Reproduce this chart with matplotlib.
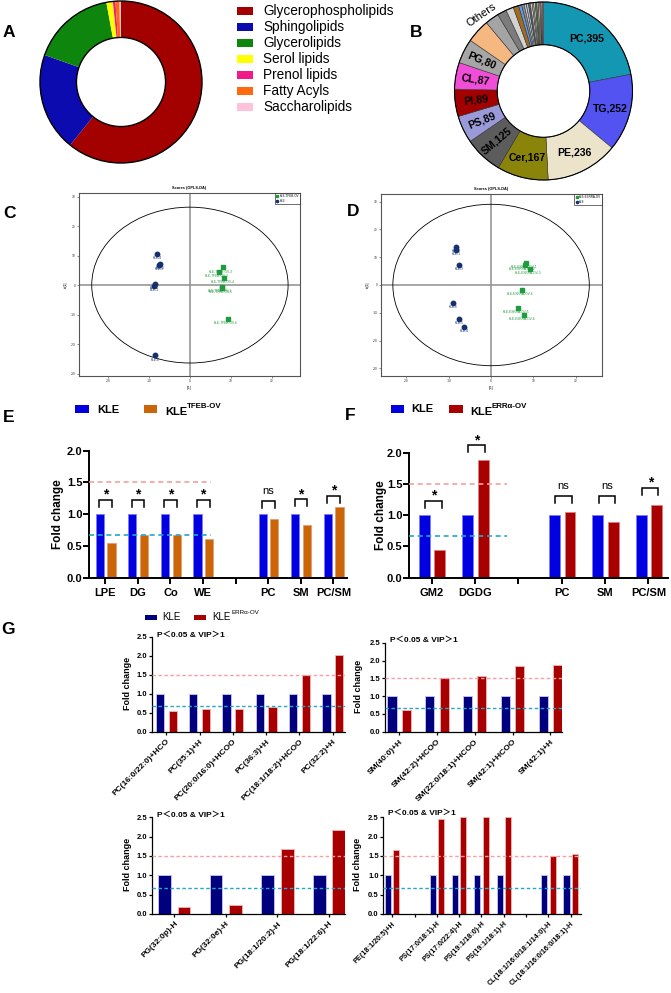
import numpy as np
import matplotlib
matplotlib.use("Agg")
import matplotlib.pyplot as plt
from matplotlib.patches import Rectangle, Ellipse, Circle

W, H = 671, 993
plt.rcParams['font.family'] = ['Liberation Sans', 'Noto Sans CJK SC', 'DejaVu Sans']
plt.rcParams['axes.unicode_minus'] = False

# ---------------- data ----------------
# A: lipid categories (% of identified lipids)
cat_names = ['Glycerophospholipids', 'Sphingolipids', 'Glycerolipids', 'Serol lipids',
             'Prenol lipids', 'Fatty Acyls', 'Saccharolipids']
cat_share = [60.8, 19.6, 16.7, 1.3, 0.5, 0.8, 0.3]
cat_colors = ['#a30000', '#0b0bb0', '#0e860e', '#ffff00', '#f01a88', '#ff6a10', '#ffc2dd']

# B: lipid subclasses (number of species)
sub_names = ['PC', 'TG', 'PE', 'Cer', 'SM', 'PS', 'PI', 'CL', 'PG']
sub_counts = [395, 252, 236, 167, 125, 89, 89, 87, 80]
sub_colors = ['#1497b3', '#5353f2', '#ebe4cb', '#8b840a', '#5c5c5c', '#9a9ad8',
              '#a30000', '#f04ed8', '#a6a6a6']
other_counts = [77, 45, 30, 25, 18, 10, 8, 7, 7, 6, 6, 5, 5, 5, 5, 5, 4, 4, 4]
other_colors = ['#f4b880', '#a4a4a4', '#7c7c7c', '#d2d2d2', '#a06a20', '#5a9af0', '#909090',
                '#c8c8c8', '#a8c0e0', '#606060', '#e0d0b0', '#b0b0b0', '#d8d8f0', '#40a040',
                '#c0a080', '#e8c0c0', '#909090', '#d0b090', '#b0a0a0']

# C: OPLS-DA scores, KLE vs KLE-TFEB-OV
c_kle_t1 = [-8.0, -7.5, -7.3, -8.6, -8.7, -8.5]
c_kle_to = [10.5, 6.7, 7.1, 0.5, -0.3, -23.8]
c_kle_lab = ['KLE-4', 'KLE-3', 'KLE-5', 'KLE-2', 'KLE-1', 'KLE-6']
c_ov_t1 = [8.1, 7.1, 8.4, 7.7, 7.9, 9.3]
c_ov_to = [6.0, 4.5, 2.5, -0.6, -0.9, -11.6]
c_ov_lab = ['KLE-TFEB-OV-3', 'KLE-TFEB-OV-2', 'KLE-TFEB-OV-4', 'KLE-TFEB-OV-1',
            'KLE-TFEB-OV-5', 'KLE-TFEB-OV-6']

# D: OPLS-DA scores, KLE vs KLE-ESRRA-OV
d_kle_t1 = [-8.3, -8.2, -7.5, -9.0, -7.6, -6.3]
d_kle_to = [13.8, 12.6, 7.3, -6.4, -12.2, -15.0]
d_kle_lab = ['KLE-2', 'KLE-1', 'KLE-3', 'KLE-6', 'KLE-5', 'KLE-4']
d_ov_t1 = [8.3, 7.9, 9.1, 7.4, 6.4, 7.7]
d_ov_to = [8.0, 7.2, 5.9, -1.8, -8.2, -10.8]
d_ov_lab = ['KLE-ESRRA-OV-1', 'KLE-ESRRA-OV-2', 'KLE-ESRRA-OV-3', 'KLE-ESRRA-OV-6',
            'KLE-ESRRA-OV-5', 'KLE-ESRRA-OV-4']

nan = np.nan
# E: fold change, KLE vs KLE-TFEB-OV
e_cats = ['LPE', 'DG', 'Co', 'WE', '', 'PC', 'SM', 'PC/SM']
e_kle = [1, 1, 1, 1, nan, 1, 1, 1]
e_tfeb = [0.55, 0.67, 0.665, 0.615, nan, 0.925, 0.825, 1.12]
e_sig = ['*', '*', '*', '*', '', 'ns', '*', '*']
e_top = [1.225, 1.225, 1.225, 1.225, nan, 1.21, 1.24, 1.29]

# F: fold change, KLE vs KLE-ERRa-OV
f_cats = ['GM2', 'DGDG', '', 'PC', 'SM', 'PC/SM']
f_kle = [1, 1, nan, 1, 1, 1]
f_erra = [0.44, 1.89, nan, 1.045, 0.89, 1.17]
f_sig = ['*', '*', '', 'ns', 'ns', '*']
f_top = [1.23, 2.12, nan, 1.31, 1.31, 1.44]

# G: individual lipid species
g1_lipids = ['PC(16:0/22:0)+HCO', 'PC(35:1)+H', 'PC(20:0/16:0)+HCOO', 'PC(36:3)+H',
             'PC(18:1/18:2)+HCOO', 'PC(32:2)+H']
g1_kle = [1, 1, 1, 1, 1, 1]
g1_erra = [0.55, 0.6, 0.6, 0.65, 1.5, 2.01]
g2_lipids = ['SM(40:0)+H', 'SM(42:2)+HCOO', 'SM(22:0/18:1)+HCOO', 'SM(42:1)+HCOO', 'SM(42:1)+H']
g2_kle = [1, 1, 1, 1, 1]
g2_erra = [0.61, 1.52, 1.56, 1.84, 1.87]
g3_lipids = ['PG(32:0p)-H', 'PG(32:0e)-H', 'PG(18:1/20:2)-H', 'PG(18:1/22:6)-H']
g3_kle = [1, 1, 1, 1]
g3_erra = [0.19, 0.23, 1.67, 2.17]
g4_lipids = ['PE(18:1/20:5)+H', '', 'PS(17:0/18:1)-H', 'PS(17:0/22:4)-H', 'PS(19:1/18:0)-H',
             'PS(19:1/18:1)-H', '', 'CL(18:1/16:0/18:1/14:0)-H', 'CL(18:1/16:0/16:0/18:1)-H']
g4_kle = [1, nan, 1, 1, 1, 1, nan, 1, 1]
g4_erra = [1.65, nan, 2.45, 2.5, 2.5, 2.5, nan, 1.5, 1.55]

up_line, down_line = 1.5, 0.67

# ---------------- figure helpers ----------------
fig = plt.figure(figsize=(W / 100, H / 100), dpi=100)


def pax(x0, y0, x1, y1):
    return fig.add_axes([x0 / W, 1 - y1 / H, (x1 - x0) / W, (y1 - y0) / H])


def ptext(x, y, s, **kw):
    fig.text(x / W, 1 - y / H, s, **kw)


def prect(x0, y0, x1, y1, c):
    fig.add_artist(Rectangle((x0 / W, 1 - y1 / H), (x1 - x0) / W, (y1 - y0) / H,
                             transform=fig.transFigure, fc=c, ec='none'))


for lab, x, y in [('A', 8.5, 32.5), ('B', 416, 32.5), ('C', 9, 213), ('D', 353, 211),
                  ('E', 9, 417), ('F', 350, 416), ('G', 8.5, 630)]:
    ptext(x, y, lab, fontsize=12.5, fontweight='bold', ha='center', va='center')

# ---------------- A ----------------
cx, cy, r = 121, 82, 81
ax = pax(cx - 83, cy - 83, cx + 83, cy + 83)
ax.pie(cat_share, colors=cat_colors, startangle=90, counterclock=False,
       wedgeprops=dict(width=0.45, edgecolor='none'))
ax.add_patch(Circle((0, 0), 1, fill=False, ec='black', lw=1))
ax.add_patch(Circle((0, 0), 0.55, fill=False, ec='black', lw=1))
ax.set_xlim(-83 / r, 83 / r)
ax.set_ylim(-83 / r, 83 / r)
ax.axis('off')

for i, (n, c) in enumerate(zip(cat_names, cat_colors)):
    y = 11 + 16 * i
    prect(237, y - 3.9, 252.7, y + 3.9, c)
    ptext(263, y + 0.5, n, fontsize=9.8, va='center')

# ---------------- B ----------------
cx, cy, r = 543.5, 91, 89
ax = pax(cx - 91, cy - 91, cx + 91, cy + 91)
vals = sub_counts + other_counts
ax.pie(vals, colors=sub_colors + other_colors, startangle=90, counterclock=False,
       wedgeprops=dict(width=0.48, edgecolor='#333333', linewidth=0.4))
ax.add_patch(Circle((0, 0), 1, fill=False, ec='black', lw=0.8))
ax.add_patch(Circle((0, 0), 0.52, fill=False, ec='black', lw=0.8))
ax.set_xlim(-91 / r, 91 / r)
ax.set_ylim(-91 / r, 91 / r)
ax.axis('off')
total = sum(vals)
cum = np.cumsum([0] + vals)
for i, (n, v) in enumerate(zip(sub_names, sub_counts)):
    mid = (cum[i] + v / 2) / total * 360
    x, y = 0.77 * np.sin(np.radians(mid)), 0.77 * np.cos(np.radians(mid))
    rot = 0 if i < 4 else 0.85 * (270 - mid)
    ax.text(x, y, f'{n},{v}', ha='center', va='center', rotation=rot,
            rotation_mode='anchor', fontsize=7.6, fontweight='bold')
ax.text(1.1 * np.sin(np.radians(321)), 1.1 * np.cos(np.radians(321)), 'Others',
        ha='center', va='center', rotation=35, rotation_mode='anchor', fontsize=8)


# ---------------- C / D ----------------
def score_plot(ax, kx, ky, klab, ox, oy, olab, oname, xlim, ylim, ew, eh):
    ax.axhline(0, color='#8e8e8e', lw=1.1, zorder=1)
    ax.axvline(0, color='#8e8e8e', lw=1.1, zorder=1)
    ax.add_patch(Ellipse((0, 0), 2 * ew, 2 * eh, fill=False, ec='black', lw=0.6, zorder=2))
    ax.plot(ox, oy, 's', color='#1f9a3c', ms=3.0, lw=0, label=oname, zorder=3)
    ax.plot(kx, ky, 'o', color='#15306e', ms=3.2, lw=0, label='KLE', zorder=3)
    for x, y, s in zip(kx, ky, klab):
        ax.annotate(s, (x, y), xytext=(0, -3), textcoords='offset points', ha='center',
                    va='center', fontsize=2.3, color='#15306e')
    for x, y, s in zip(ox, oy, olab):
        ax.annotate(s, (x, y), xytext=(-1.5, -3), textcoords='offset points', ha='center',
                    va='center', fontsize=2.3, color='#1f9a3c')
    ax.set_xlim(*xlim)
    ax.set_ylim(*ylim)
    ax.set_xticks([-20, -10, 0, 10, 20])
    ax.set_yticks([-30, -20, -10, 0, 10, 20, 30])
    ax.tick_params(labelsize=2.3, length=1.5, width=0.4, pad=1, colors='#333333')
    for s in ax.spines.values():
        s.set_color('#555555')
        s.set_linewidth(0.8)
    ax.set_xlabel('t[1]', fontsize=2.3, labelpad=2)
    ax.set_ylabel('to[1]', fontsize=2.3, labelpad=2)
    ax.set_title('Scores (OPLS-DA)', fontsize=2.8, fontweight='bold', pad=3)
    leg = ax.legend(loc='upper right', fontsize=2.2, frameon=True, borderaxespad=0,
                    handlelength=0.6, markerscale=0.5, fancybox=False, edgecolor='black',
                    framealpha=1, borderpad=0.4, labelspacing=0.2, handletextpad=0.4)
    leg.get_frame().set_linewidth(0.4)


ax = pax(79, 193, 300, 376)
score_plot(ax, c_kle_t1, c_kle_to, c_kle_lab, c_ov_t1, c_ov_to, c_ov_lab, 'KLE-TFEB-OV',
           (-27, 26.8), (-30.8, 31.2), 23.9, 26.4)
ax = pax(381, 194, 602, 376)
score_plot(ax, d_kle_t1, d_kle_to, d_kle_lab, d_ov_t1, d_ov_to, d_ov_lab, 'KLE-ESRRA-OV',
           (-26, 26.2), (-32.7, 32.7), 23.2, 29.0)


# ---------------- bar panels ----------------
def bar_axes(ax, cats, base, test, c1, c2, ec1, ec2, width, o1, o2, xlim, ymax, ystep,
             lw, tl, fs_y, fs_x, rot=False):
    idx = [i for i in range(len(cats)) if not np.isnan(test[i])]
    ax.bar([i + o1 for i in idx], [base[i] for i in idx], width, color=c1, edgecolor=ec1,
           linewidth=0.6, zorder=2)
    ax.bar([i + o2 for i in idx], [test[i] for i in idx], width, color=c2, edgecolor=ec2,
           linewidth=0.6, zorder=2)
    ax.set_xlim(*xlim)
    ax.set_ylim(0, ymax)
    for s in ['top', 'right']:
        ax.spines[s].set_visible(False)
    for s in ['left', 'bottom']:
        ax.spines[s].set_linewidth(lw)
    ax.set_xticks(range(len(cats)))
    yt = np.arange(0, ymax + 0.01, ystep)
    ax.set_yticks(yt)
    ax.set_yticklabels([f'{v:.1f}' for v in yt], fontweight='bold', fontsize=fs_y)
    ax.tick_params(axis='y', width=lw, length=tl, pad=0.8)
    ax.tick_params(axis='x', width=lw, length=tl, pad=2 if rot else 3.5)
    if rot:
        ax.set_xticklabels(cats, fontweight='bold', fontsize=fs_x, rotation=45, ha='right',
                           va='top', rotation_mode='anchor')
    else:
        ax.set_xticklabels(cats, fontweight='bold', fontsize=fs_x)


def dashed(ax, xend, lw, dash):
    x0 = ax.get_xlim()[0]
    ax.hlines(up_line, x0, xend, colors='#f4a0a0', linestyles=(0, dash), lw=lw, zorder=3)
    ax.hlines(down_line, x0, xend, colors='#26a6c6', linestyles=(0, dash), lw=lw, zorder=3)


def brackets(ax, tops, marks, x1, x2):
    for i, (t, m) in enumerate(zip(tops, marks)):
        if not m:
            continue
        ax.plot([i + x1, i + x1, i + x2, i + x2], [t - 0.11, t, t, t - 0.11], color='black',
                lw=1.1, clip_on=False, solid_joinstyle='miter')
        if m == '*':
            ax.text(i + (x1 + x2) / 2, t + 0.015, '*', ha='center', va='baseline',
                    fontsize=10, fontweight='bold', clip_on=False)
        else:
            ax.text(i + (x1 + x2) / 2, t + 0.11, 'ns', ha='center', va='baseline',
                    fontsize=8, clip_on=False)


def fold_label(ax, fs, xr, yc=0.5):
    ax.set_ylabel('Fold change', fontsize=fs, fontweight='bold')
    ax.yaxis.set_label_coords(xr, yc)


blue, orange, red, navy = '#0000e0', '#cc6508', '#a80000', '#00007f'

# E
ax = pax(89, 450.7, 347, 577.7)
bar_axes(ax, e_cats, e_kle, e_tfeb, blue, orange, '#7d7dff', '#e0a070', 0.25, -0.17, 0.19,
         (-0.5, 7.42), 2.0, 0.5, 1.4, 4, 8, 8)
dashed(ax, 3.24, 1.2, (3, 2.2))
brackets(ax, e_top, e_sig, -0.19, 0.2)
fold_label(ax, 8.5, (64 - 89) / 258)

prect(75, 405, 89, 413, blue)
ptext(97, 410, 'KLE', fontsize=8, fontweight='bold', va='center')
prect(144, 405, 157, 413, orange)
ptext(165.7, 412, 'KLE', fontsize=8, fontweight='bold', va='center')
ptext(186.7, 406.5, 'TFEB-OV', fontsize=5.7, fontweight='bold', va='center')

# F
ax = pax(409, 452.7, 668, 577.7)
bar_axes(ax, f_cats, f_kle, f_erra, blue, red, '#7d7dff', '#e08080', 0.25, -0.17, 0.19,
         (-0.52, 5.45), 2.0, 0.5, 1.4, 4, 8, 8)
dashed(ax, 1.73, 1.2, (3, 2.2))
brackets(ax, f_top, f_sig, -0.15, 0.23)
fold_label(ax, 8.5, (387 - 409) / 259)

prect(390.7, 405, 404.3, 412.7, blue)
ptext(411.7, 409.5, 'KLE', fontsize=8, fontweight='bold', va='center')
prect(449, 405, 462.7, 412.7, red)
ptext(470, 412, 'KLE', fontsize=8, fontweight='bold', va='center')
ptext(491, 407, 'ERRα-OV', fontsize=5.7, fontweight='bold', va='center')

# G
prect(145, 614.5, 156.7, 620, navy)
ptext(162.7, 617, 'KLE', fontsize=7, va='center')
prect(194.3, 614.5, 205.7, 620, red)
ptext(212.3, 617.5, 'KLE', fontsize=7, va='center')
ptext(231, 613, 'ERRα-OV', fontsize=4.5, va='center')

g_panels = [
    ((151.7, 636.7, 345, 731.7), g1_lipids, g1_kle, g1_erra, 0.25, (-0.44, 5.37), -0.103, 1.01, 6),
    ((385, 642.7, 561.7, 731.7), g2_lipids, g2_kle, g2_erra, 0.24, (-0.375, 4.3), -0.123, 1.03, 6),
    ((151.7, 817.3, 345, 914), g3_lipids, g3_kle, g3_erra, 0.245, (-0.44, 3.31), -0.103, 1.017, 6),
    ((383.3, 817.3, 581, 914), g4_lipids, g4_kle, g4_erra, 0.27, (-0.4, 8.46), -0.106, 1.04, 5.2),
]
for box, labs, kle, erra, w, xl, yl_x, t_y, fsx in g_panels:
    ax = pax(*box)
    bar_axes(ax, labs, kle, erra, navy, red, '#c8c8ee', '#f0b8b8', w, -0.19, 0.19,
             xl, 2.5, 0.5, 0.9, 2.5, 5.5, fsx, rot=True)
    dashed(ax, xl[1], 1.0, (2.5, 1.8))
    fold_label(ax, 6.5, yl_x, 0.51)
    ax.text(5 / (box[2] - box[0]), t_y, 'P＜0.05 & VIP＞1', transform=ax.transAxes,
            fontsize=6, fontweight='bold', va='center', ha='left')

fig.savefig('out.png', dpi=100)
